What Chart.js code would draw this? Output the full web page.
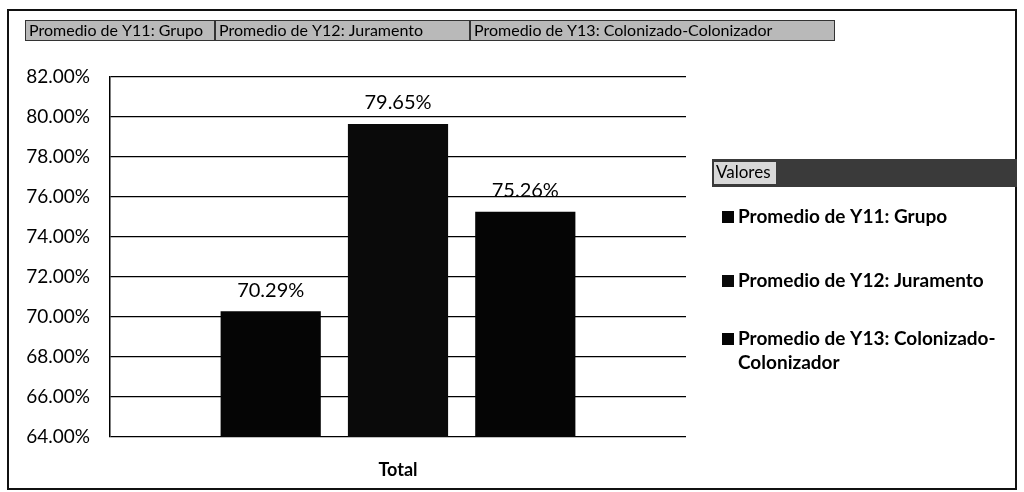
<!DOCTYPE html>
<html>
<head>
<meta charset="utf-8">
<script src="https://cdn.jsdelivr.net/npm/chart.js@4.4.1/dist/chart.umd.min.js"></script>
<style>
  html, body { margin: 0; padding: 0; background: #fff; }
</style>
</head>
<body>
<canvas id="chart" width="1024" height="492"></canvas>
<script>
// data
const categories = ['Total'];
const seriesNames = [
  'Promedio de Y11: Grupo',
  'Promedio de Y12: Juramento',
  'Promedio de Y13: Colonizado-Colonizador'
];
const grupo = [70.29];
const juramento = [79.65];
const colonizado = [75.26];
const yMin = 64;
const yMax = 82;
const yStep = 2;
const legendTitle = 'Valores';

const FONT = 'Lato, "Liberation Sans", sans-serif';

// wrap a legend label after the hyphen when it is too wide
function wrapLabel(ctx, text, maxWidth) {
  if (ctx.measureText(text).width <= maxWidth) return [text];
  const cut = text.lastIndexOf('-');
  if (cut < 0) return [text];
  return [text.slice(0, cut + 1), text.slice(cut + 1)];
}

const decorations = {
  id: 'decorations',
  afterDraw(chart) {
    const ctx = chart.ctx;
    ctx.save();

    // outer frame
    ctx.strokeStyle = '#111';
    ctx.lineWidth = 2;
    ctx.strokeRect(8, 10, 1008, 479);

    // value labels above the bars
    ctx.fillStyle = '#000';
    ctx.font = '20px ' + FONT;
    ctx.textAlign = 'center';
    ctx.textBaseline = 'middle';
    chart.data.datasets.forEach((ds, i) => {
      chart.getDatasetMeta(i).data.forEach((bar, j) => {
        ctx.fillText(ds.data[j].toFixed(2) + '%', bar.x, bar.y - 21);
      });
    });

    // pivot field buttons along the top
    const buttons = [[25, 215], [215, 470], [470, 835]];
    ctx.font = '16px ' + FONT;
    ctx.textAlign = 'left';
    chart.data.datasets.forEach((ds, i) => {
      const [x0, x1] = buttons[i];
      ctx.fillStyle = '#b9b9b9';
      ctx.fillRect(x0, 20, x1 - x0, 21);
      ctx.strokeStyle = '#333';
      ctx.lineWidth = 1;
      ctx.strokeRect(x0 + 0.5, 20.5, x1 - x0 - 1, 20);
      ctx.fillStyle = '#000';
      ctx.fillText(ds.label, x0 + 4, 31, x1 - x0 - 14);
    });

    // legend header
    ctx.fillStyle = '#3a3a3a';
    ctx.fillRect(712, 159, 305, 28);
    ctx.fillStyle = '#d8d8d8';
    ctx.fillRect(714, 162, 62, 22);
    ctx.fillStyle = '#000';
    ctx.font = '17px ' + FONT;
    ctx.fillText(legendTitle, 716, 173, 58);

    // legend items
    const itemY = [217, 281, 339];
    ctx.font = 'bold 19px ' + FONT;
    chart.data.datasets.forEach((ds, i) => {
      const y = itemY[i];
      ctx.fillStyle = ds.backgroundColor;
      ctx.fillRect(722, y - 6, 12, 12);
      ctx.fillStyle = '#000';
      wrapLabel(ctx, ds.label, 270).forEach((line, k) => {
        ctx.fillText(line, 738, y + k * 24);
      });
    });

    ctx.restore();
  }
};

new Chart(document.getElementById('chart'), {
  type: 'bar',
  data: {
    labels: categories,
    datasets: [
      {label: seriesNames[0], data: grupo, backgroundColor: '#050505'},
      {label: seriesNames[1], data: juramento, backgroundColor: '#0a0a0a'},
      {label: seriesNames[2], data: colonizado, backgroundColor: '#050505'}
    ]
  },
  options: {
    responsive: false,
    animation: false,
    categoryPercentage: 0.663,
    barPercentage: 0.787,
    layout: {
      padding: {left: 10, top: 77, right: 338, bottom: 10}
    },
    plugins: {
      legend: {display: false},
      tooltip: {enabled: false}
    },
    scales: {
      x: {
        grid: {display: false, drawTicks: false},
        border: {display: false},
        ticks: {
          color: '#000',
          padding: 22,
          font: {family: FONT, size: 18, weight: 'bold'}
        },
        afterFit(scale) { scale.height = 45; }
      },
      y: {
        min: yMin,
        max: yMax,
        grid: {color: '#000', lineWidth: 1.2, drawTicks: false},
        border: {display: true, color: '#000', width: 1.5},
        ticks: {
          stepSize: yStep,
          color: '#000',
          padding: 20,
          font: {family: FONT, size: 19},
          callback: (v) => v.toFixed(2) + '%'
        },
        afterFit(scale) { scale.width = 100; }
      }
    }
  },
  plugins: [decorations]
});
</script>
</body>
</html>
